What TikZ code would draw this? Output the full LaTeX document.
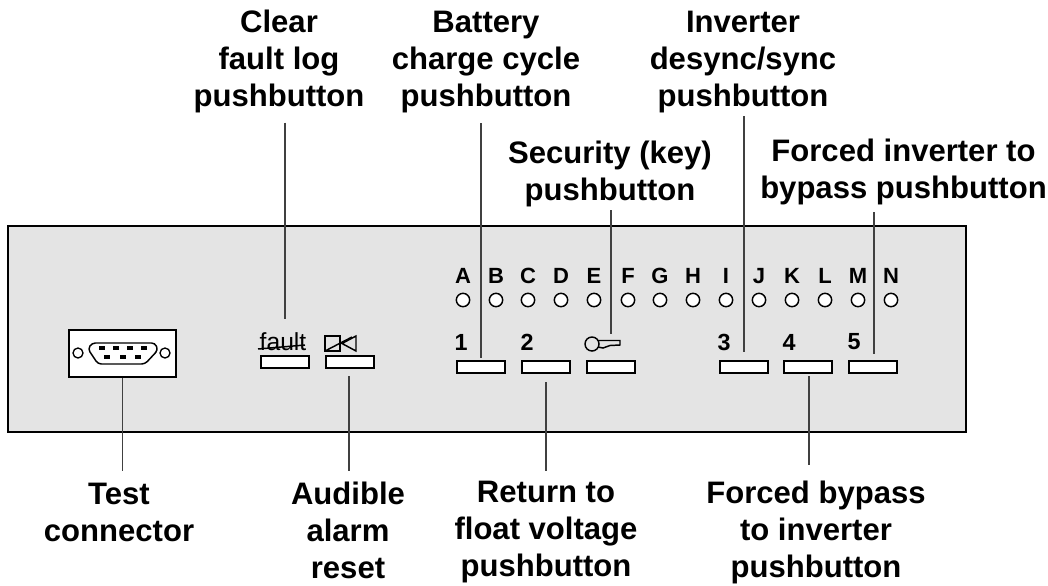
\documentclass[tikz,border=0pt]{standalone}
\usepackage{fontspec}
\setmainfont{Liberation Sans}
\usepackage{tikz}
\usetikzlibrary{positioning}

\definecolor{panelgray}{gray}{0.895}

\begin{document}
\begin{tikzpicture}[
  x=0.75pt, y=-0.75pt,
  panel/.style={rectangle, draw=black, line width=1.3pt, fill=panelgray, minimum width=718.5pt, minimum height=154.5pt, inner sep=0pt},
  btn/.style={rectangle, draw=black, line width=1.5pt, fill=white, minimum width=36.4pt, minimum height=9.3pt, inner sep=0pt},
  led/.style={circle, draw=black, line width=1.1pt, fill=white, minimum size=10pt, inner sep=0pt},
  screw/.style={circle, draw=black, line width=1pt, minimum size=7.5pt, inner sep=0pt},
  pin/.style={rectangle, fill=black, minimum width=3.8pt, minimum height=2.5pt, inner sep=0pt},
  tag/.style={font=\fontsize{16.5}{18}\selectfont\bfseries, inner sep=0pt},
  num/.style={font=\fontsize{17.5}{20}\selectfont\bfseries, inner sep=0pt},
  lbl/.style={font=\fontsize{23.3}{27.75}\selectfont\bfseries, align=center, inner sep=0pt},
  leader/.style={draw=black!75, line width=0.8pt},
  icon/.style={line width=1.1pt}
]
\useasboundingbox (0,0) rectangle (1048,585);

\node[panel] (panel) at (487,329) {};

% test connector
\node[rectangle, draw=black, line width=1.6pt, fill=white, minimum width=80.3pt, minimum height=35.4pt, inner sep=0pt] (conn) at (122.5,353.5) {};
\node[screw] (screwl) at (78,353) {};
\node[screw] (screwr) at (165,353) {};
\draw[icon, rounded corners=2.5pt] (92,343) -- (155,343) -- (158,350) -- (145,364) -- (98,364) -- (88,349) -- cycle;
\foreach \px in {102,116,130,144} \node[pin] (top\px) at (\px,348) {};
\foreach \px in {107,123,138} \node[pin] (bot\px) at (\px,357) {};

% buttons
\node[btn] (fault) at (285,362) {};
\node[btn] (alarm) at (350,362) {};
\node[btn] (one) at (481,367) {};
\node[btn] (two) at (546,367) {};
\node[btn] (key) at (611,367) {};
\node[btn] (three) at (744,367) {};
\node[btn] (four) at (808,367) {};
\node[btn] (five) at (873,367) {};

% leds and letters
\foreach \lx/\ln in {463/A,496/B,528/C,561/D,594/E,628/F,660/G,693/H,726/I,759/J,792/K,825/L,858/M,891/N} {
  \node[led] (led\ln) at (\lx,300) {};
  \node[tag] (let\ln) at (\lx,276) {\ln};
}

% numbers
\node[num] (num1) at (461,342) {1};
\node[num] (num2) at (527,342) {2};
\node[num] (num3) at (724,342) {3};
\node[num] (num4) at (789,342) {4};
\node[num] (num5) at (854,342) {5};

% icons above the buttons
\node[font=\fontsize{18.5}{20}\selectfont, inner sep=0pt] (faulttxt) at (283,342) {fault};
\draw[icon] (258,349) -- (305,345);
\draw[icon] (325,336) rectangle (340,351);
\draw[icon] (342,343.5) -- (356,336) -- (356,351) -- cycle;
\draw[icon] (325,351) -- (352,337);
\node[circle, draw=black, line width=1.1pt, minimum size=10.5pt, inner sep=0pt] (keyhead) at (592,344) {};
\draw[icon] (598,340.5) -- (620,340.5) -- (620,345) -- (610,345.5) -- (603,348) -- (598,347);

% top labels
\node[lbl, anchor=south, inner ysep=6.8pt] (clearlbl) at (279,122.5) {Clear\\fault log\\pushbutton};
\node[lbl, anchor=south, inner ysep=7.3pt] (batterylbl) at (486,123) {Battery\\charge cycle\\pushbutton};
\node[lbl, anchor=south, inner ysep=1.9pt] (securitylbl) at (610,210) {Security (key)\\pushbutton};
\node[lbl, anchor=south, inner ysep=1.9pt] (inverterlbl) at (743,116) {Inverter\\desync/sync\\pushbutton};
\node[lbl, anchor=south, inner ysep=4.9pt] (forcedlbl) at (903.5,212) {Forced inverter to\\bypass pushbutton};

% bottom labels
\node[lbl, anchor=north, inner ysep=9pt] (testlbl) at (119,471) {Test\\connector};
\node[lbl, anchor=north, inner ysep=8.3pt] (audiblelbl) at (348,471) {Audible\\alarm\\reset};
\node[lbl, anchor=north, inner ysep=7.5pt] (returnlbl) at (546,471) {Return to\\float voltage\\pushbutton};
\node[lbl, anchor=north, inner ysep=11.6pt] (bypasslbl) at (816,465) {Forced bypass\\to inverter\\pushbutton};

% free ends of the leaders
\coordinate (clearend) at (285,319);
\coordinate (batteryend) at (481,358);
\coordinate (securityend) at (611,334);
\coordinate (inverterend) at (744,352);
\coordinate (forcedend) at (874,354);
\coordinate (audibleend) at (349,376);
\coordinate (returnend) at (546,382);
\coordinate (bypassend) at (809,376);

\draw[leader] (clearlbl.south -| clearend) -- (clearend);
\draw[leader] (batterylbl.south -| batteryend) -- (batteryend);
\draw[leader] (securitylbl.south -| securityend) -- (securityend);
\draw[leader] (inverterlbl.south -| inverterend) -- (inverterend);
\draw[leader] (forcedlbl.south -| forcedend) -- (forcedend);
\draw[leader] (conn.south) -- (conn.south |- testlbl.north);
\draw[leader] (audibleend) -- (audibleend |- audiblelbl.north);
\draw[leader] (returnend) -- (returnend |- returnlbl.north);
\draw[leader] (bypassend) -- (bypassend |- bypasslbl.north);

\end{tikzpicture}
\end{document}
